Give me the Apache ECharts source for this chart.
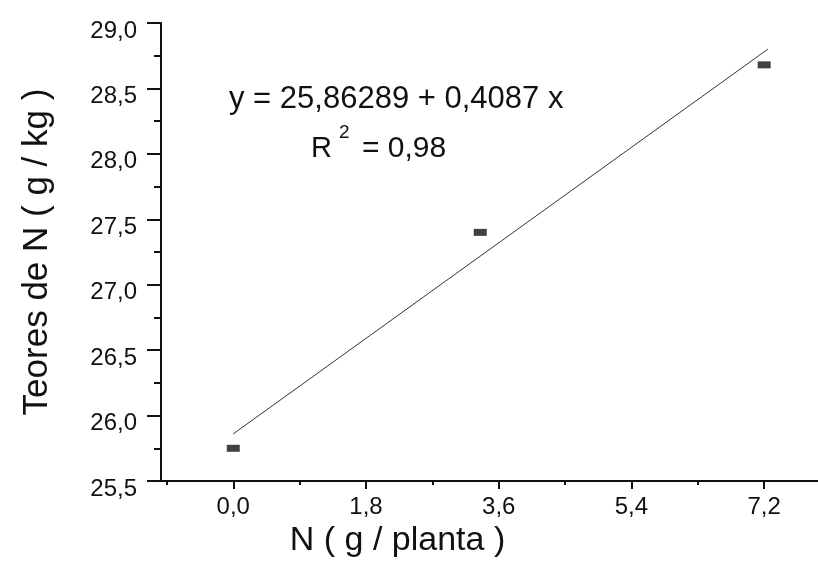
<!DOCTYPE html>
<html>
<head>
<meta charset="utf-8">
<script src="https://cdn.jsdelivr.net/npm/echarts@6/dist/echarts.min.js"></script>
<style>
  html, body { margin: 0; padding: 0; background: #fff; }
  #main { width: 818px; height: 565px; }
</style>
</head>
<body>
<div id="main"></div>
<script>
// dados
var doseN = [0, 3.35, 7.2];
var teorN = [25.75, 27.4, 28.68];
var retaX = [0, 7.25];
var retaY = [25.86, 28.8];
var xLabels = [0, 1.8, 3.6, 5.4, 7.2];
var xMinor = [-0.9, 0.9, 2.7, 4.5, 6.3];

var fonte = 'Arial, "Liberation Sans", Helvetica, sans-serif';
function virgula(v) { return v.toFixed(1).replace('.', ','); }

var pontos = doseN.map(function (x, i) { return [x, teorN[i]]; });
var reta = retaX.map(function (x, i) { return [x, retaY[i]]; });

var myChart = echarts.init(document.getElementById('main'));

option = {
    backgroundColor: '#fff',
    animation: false,
    grid: { left: 161, right: 0, top: 23, bottom: 84 },
    xAxis: [
        {
            type: 'value',
            min: -0.98,
            max: 7.93,
            name: 'N ( g / planta )',
            nameLocation: 'middle',
            nameGap: 39,
            nameTextStyle: { fontFamily: fonte, fontSize: 34, color: '#111', padding: [0, 184, 0, 0] },
            axisLine: { show: true, onZero: false, lineStyle: { color: '#111', width: 2 } },
            axisTick: { show: true, customValues: xLabels, length: 8, lineStyle: { color: '#111', width: 2 } },
            axisLabel: {
                customValues: xLabels,
                margin: 14,
                fontFamily: fonte, fontSize: 24, color: '#111',
                formatter: virgula
            },
            splitLine: { show: false }
        },
        {
            type: 'value',
            min: -0.98,
            max: 7.93,
            position: 'bottom',
            axisLine: { show: false, onZero: false },
            axisTick: { show: true, customValues: xMinor, length: 4, lineStyle: { color: '#111', width: 2 } },
            axisLabel: { show: false },
            splitLine: { show: false }
        }
    ],
    yAxis: {
        type: 'value',
        min: 25.5,
        max: 29,
        interval: 0.5,
        name: 'Teores de N ( g / kg )',
        nameLocation: 'middle',
        nameGap: 106,
        nameTextStyle: { fontFamily: fonte, fontSize: 35, color: '#111' },
        axisLine: { show: true, onZero: false, lineStyle: { color: '#111', width: 2 } },
        axisTick: { show: true, length: 14, lineStyle: { color: '#111', width: 2 } },
        minorTick: { show: true, splitNumber: 2, length: 7, lineStyle: { color: '#111', width: 2 } },
        axisLabel: {
            margin: 24,
            verticalAlign: 'top',
            lineHeight: 16,
            fontFamily: fonte, fontSize: 24, color: '#111',
            formatter: virgula
        },
        splitLine: { show: false },
        minorSplitLine: { show: false }
    },
    graphic: [
        {
            type: 'text', left: 229, top: 84, silent: true,
            style: { text: 'y = 25,86289 + 0,4087 x', font: '31px ' + fonte, fill: '#111' }
        },
        {
            type: 'text', left: 311, top: 134, silent: true,
            style: { text: 'R', font: '29px ' + fonte, fill: '#111' }
        },
        {
            type: 'text', left: 339, top: 123, silent: true,
            style: { text: '2', font: '19px ' + fonte, fill: '#111' }
        },
        {
            type: 'text', left: 362, top: 134, silent: true,
            style: { text: '= 0,98', font: '30px ' + fonte, fill: '#111' }
        }
    ],
    series: [
        {
            name: 'reta',
            type: 'line',
            data: reta,
            showSymbol: false,
            lineStyle: { color: '#333', width: 1 }
        },
        {
            name: 'teores',
            type: 'scatter',
            data: pontos,
            symbol: 'rect',
            symbolSize: [13, 7],
            itemStyle: { color: '#111' }
        }
    ]
};

myChart.setOption(option);
</script>
</body>
</html>
